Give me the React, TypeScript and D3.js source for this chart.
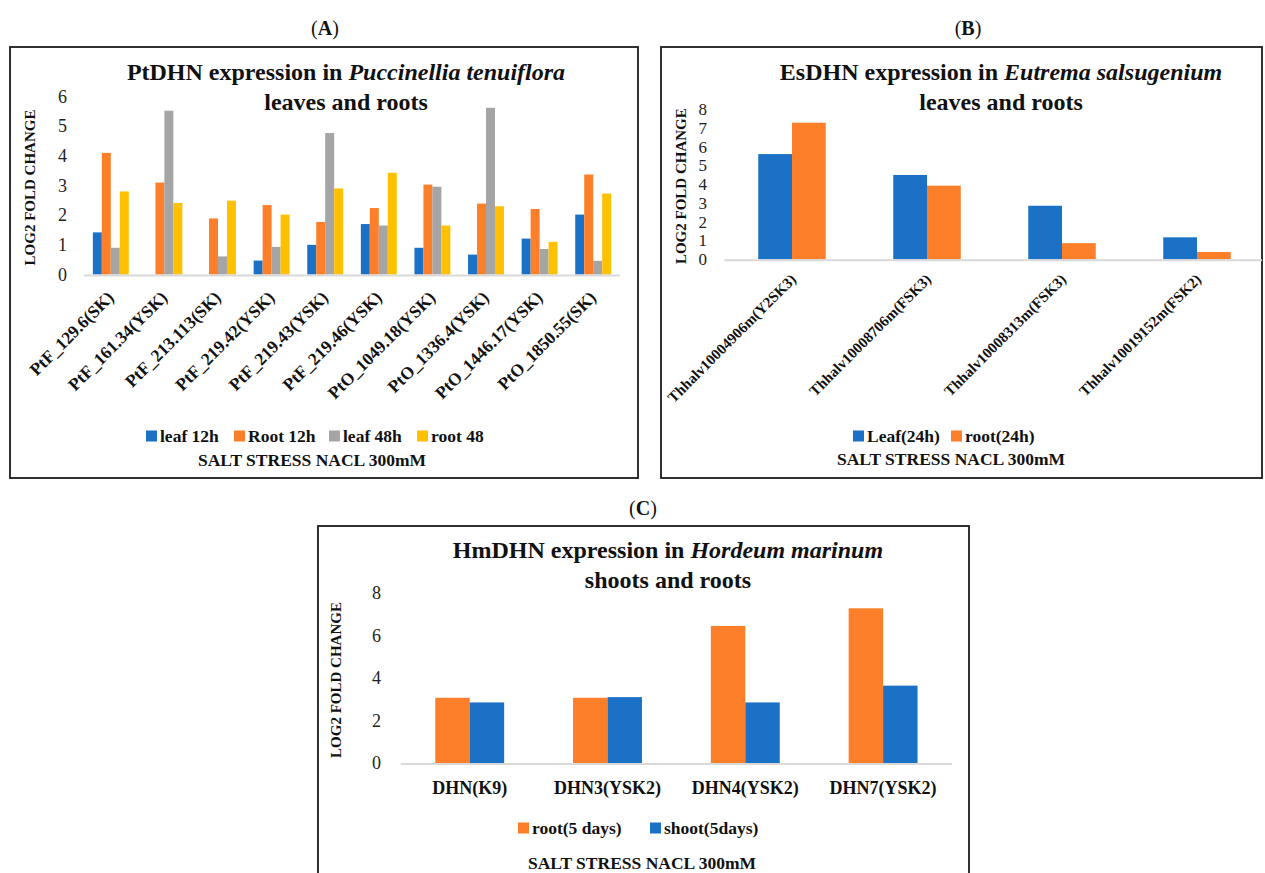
import React, { useRef, useEffect } from "react";
import * as d3 from "d3";

// (A) Puccinellia tenuiflora
const ptCategories = [
  "PtF_129.6(SK)",
  "PtF_161.34(YSK)",
  "PtF_213.113(SK)",
  "PtF_219.42(YSK)",
  "PtF_219.43(YSK)",
  "PtF_219.46(YSK)",
  "PtO_1049.18(YSK)",
  "PtO_1336.4(YSK)",
  "PtO_1446.17(YSK)",
  "PtO_1850.55(SK)",
];
const ptLeaf12h = [1.42, 0, 0, 0.47, 1.0, 1.7, 0.9, 0.67, 1.21, 2.02];
const ptRoot12h = [4.1, 3.1, 1.89, 2.34, 1.77, 2.24, 3.03, 2.39, 2.21, 3.37];
const ptLeaf48h = [0.9, 5.52, 0.61, 0.93, 4.77, 1.65, 2.96, 5.62, 0.86, 0.46];
const ptRoot48 = [2.8, 2.41, 2.49, 2.02, 2.9, 3.43, 1.65, 2.3, 1.1, 2.73];
const ptTicks = [0, 1, 2, 3, 4, 5, 6];

// (B) Eutrema salsugenium
const esCategories = [
  "Thhalv10004906m(Y2SK3)",
  "Thhalv10008706m(FSK3)",
  "Thhalv10008313m(FSK3)",
  "Thhalv10019152m(FSK2)",
];
const esLeaf24h = [5.6, 4.49, 2.85, 1.17];
const esRoot24h = [7.27, 3.92, 0.86, 0.39];
const esTicks = [0, 1, 2, 3, 4, 5, 6, 7, 8];

// (C) Hordeum marinum
const hmCategories = ["DHN(K9)", "DHN3(YSK2)", "DHN4(YSK2)", "DHN7(YSK2)"];
const hmRoot5d = [3.07, 3.07, 6.45, 7.28];
const hmShoot5d = [2.85, 3.1, 2.85, 3.64];
const hmTicks = [0, 2, 4, 6, 8];

const BLUE = "#1a71c6";
const ORANGE = "#fd7f2a";
const GRAY = "#a5a5a5";
const YELLOW = "#ffc000";
const FONT = "Liberation Serif, Times New Roman, serif";

const panels = [
  {
    tag: "A",
    tagX: 325,
    tagY: 28,
    box: [10, 47, 638, 478],
    title: ["PtDHN expression in ", "Puccinellia tenuiflora"],
    subtitle: "leaves and roots",
    titleX: 346,
    titleY: 72,
    categories: ptCategories,
    series: [
      { name: "leaf 12h", values: ptLeaf12h, color: BLUE },
      { name: "Root 12h", values: ptRoot12h, color: ORANGE },
      { name: "leaf 48h", values: ptLeaf48h, color: GRAY },
      { name: "root 48", values: ptRoot48, color: YELLOW },
    ],
    ticks: ptTicks,
    plot: { left: 84, right: 620, bottom: 274.5, top: 96.5 },
    groupFrac: 0.67,
    tickSize: 18,
    tickX: 67,
    yLabelX: 30,
    rotate: true,
    catSize: 17.5,
    catDx: 4,
    catDy: 24,
    legendY: 436,
    legendX: [146, 234, 329, 417],
    saltX: 312,
    saltY: 460,
  },
  {
    tag: "B",
    tagX: 968,
    tagY: 28,
    box: [661, 47, 1262, 478],
    title: ["EsDHN expression in ", "Eutrema salsugenium"],
    subtitle: "leaves and roots",
    titleX: 1001,
    titleY: 72,
    categories: esCategories,
    series: [
      { name: "Leaf(24h)", values: esLeaf24h, color: BLUE },
      { name: "root(24h)", values: esRoot24h, color: ORANGE },
    ],
    ticks: esTicks,
    plot: { left: 724.5, right: 1262, bottom: 259.3, top: 109 },
    bandEnd: 1264.5,
    groupFrac: 0.5,
    tickSize: 17,
    tickX: 707,
    yLabelX: 681,
    rotate: true,
    catSize: 15,
    catDx: 5,
    catDy: 21,
    legendY: 436,
    legendX: [853, 951],
    saltX: 951,
    saltY: 459,
  },
  {
    tag: "C",
    tagX: 643,
    tagY: 508,
    box: [318, 526, 969, 890],
    title: ["HmDHN expression in ", "Hordeum marinum"],
    subtitle: "shoots and roots",
    titleX: 668,
    titleY: 550,
    categories: hmCategories,
    series: [
      { name: "root(5 days)", values: hmRoot5d, color: ORANGE },
      { name: "shoot(5days)", values: hmShoot5d, color: BLUE },
    ],
    ticks: hmTicks,
    plot: { left: 400.8, right: 952, bottom: 763, top: 593 },
    groupFrac: 0.5,
    tickSize: 18,
    tickX: 381,
    yLabelX: 336,
    rotate: false,
    catSize: 18,
    catY: 788,
    legendY: 828,
    legendX: [518, 650],
    saltX: 642,
    saltY: 863,
  },
];

const drawPanel = (svg, p) => {
  const g = svg.append("g");
  const [bx0, by0, bx1, by1] = p.box;

  g.append("rect")
    .attr("x", bx0)
    .attr("y", by0)
    .attr("width", bx1 - bx0)
    .attr("height", by1 - by0)
    .attr("fill", "white")
    .attr("stroke", "#1b1b1b")
    .attr("stroke-width", 1.8);

  // panel tag (A)/(B)/(C)
  const tag = g
    .append("text")
    .attr("x", p.tagX)
    .attr("y", p.tagY)
    .attr("dy", "0.35em")
    .attr("text-anchor", "middle")
    .style("font-size", "20px")
    .style("fill", "#111");
  tag.append("tspan").text("(");
  tag.append("tspan").style("font-weight", "bold").text(p.tag);
  tag.append("tspan").text(")");

  // title
  const t = g
    .append("text")
    .attr("x", p.titleX)
    .attr("y", p.titleY)
    .attr("dy", "0.35em")
    .attr("text-anchor", "middle")
    .style("font-size", "24px")
    .style("font-weight", "bold")
    .style("fill", "#111");
  t.append("tspan").text(p.title[0]);
  t.append("tspan").style("font-style", "italic").text(p.title[1]);
  g.append("text")
    .attr("x", p.titleX)
    .attr("y", p.titleY + 30)
    .attr("dy", "0.35em")
    .attr("text-anchor", "middle")
    .style("font-size", "24px")
    .style("font-weight", "bold")
    .style("fill", "#111")
    .text(p.subtitle);

  const x0 = d3
    .scaleBand()
    .domain(p.categories)
    .range([p.plot.left, p.bandEnd || p.plot.right])
    .padding(0);
  const bw = x0.bandwidth();
  const gw = bw * p.groupFrac;
  const x1 = d3
    .scaleBand()
    .domain(p.series.map((s) => s.name))
    .range([(bw - gw) / 2, (bw + gw) / 2]);
  const y = d3
    .scaleLinear()
    .domain([0, d3.max(p.ticks)])
    .range([p.plot.bottom, p.plot.top]);

  // y tick labels
  g.selectAll(".ytick")
    .data(p.ticks)
    .enter()
    .append("text")
    .attr("x", p.tickX)
    .attr("y", (d) => y(d))
    .attr("dy", "0.35em")
    .attr("text-anchor", "end")
    .style("font-size", p.tickSize + "px")
    .style("fill", "#222")
    .text((d) => d);

  g.append("text")
    .attr(
      "transform",
      `translate(${p.yLabelX},${(p.plot.top + p.plot.bottom) / 2 + 2}) rotate(-90)`
    )
    .attr("dy", "0.35em")
    .attr("text-anchor", "middle")
    .style("font-size", "15px")
    .style("font-weight", "bold")
    .style("fill", "#111")
    .text("LOG2 FOLD CHANGE");

  // bars
  p.series.forEach((s) => {
    g.selectAll(null)
      .data(p.categories)
      .enter()
      .append("rect")
      .attr("x", (d) => x0(d) + x1(s.name))
      .attr("y", (d, i) => y(s.values[i]))
      .attr("width", x1.bandwidth())
      .attr("height", (d, i) => y(0) - y(s.values[i]))
      .attr("fill", s.color);
  });

  // baseline
  g.append("line")
    .attr("x1", p.plot.left)
    .attr("x2", p.plot.right)
    .attr("y1", y(0) + 1)
    .attr("y2", y(0) + 1)
    .attr("stroke", "#d9d9d9")
    .attr("stroke-width", 2);

  // category labels
  const cats = g
    .selectAll(".cat")
    .data(p.categories)
    .enter()
    .append("text")
    .style("font-size", p.catSize + "px")
    .style("font-weight", "bold")
    .style("fill", "#111")
    .text((d) => d);
  if (p.rotate) {
    cats
      .attr("text-anchor", "end")
      .attr(
        "transform",
        (d) =>
          `translate(${x0(d) + bw / 2 + p.catDx},${y(0) + p.catDy}) rotate(-45)`
      );
  } else {
    cats
      .attr("text-anchor", "middle")
      .attr("x", (d) => x0(d) + bw / 2)
      .attr("y", p.catY)
      .attr("dy", "0.35em");
  }

  // legend
  p.series.forEach((s, i) => {
    const lx = p.legendX[i];
    g.append("rect")
      .attr("x", lx)
      .attr("y", p.legendY - 5.5)
      .attr("width", 11)
      .attr("height", 11)
      .attr("fill", s.color);
    g.append("text")
      .attr("x", lx + 14)
      .attr("y", p.legendY)
      .attr("dy", "0.35em")
      .style("font-size", "17.5px")
      .style("font-weight", "bold")
      .style("fill", "#111")
      .text(s.name);
  });

  g.append("text")
    .attr("x", p.saltX)
    .attr("y", p.saltY)
    .attr("dy", "0.35em")
    .attr("text-anchor", "middle")
    .style("font-size", "17.5px")
    .style("font-weight", "bold")
    .style("fill", "#111")
    .text("SALT STRESS NACL 300mM");
};

const App = () => {
  const ref = useRef(null);

  useEffect(() => {
    const svg = d3.select(ref.current);
    svg.selectAll("*").remove();
    svg
      .attr("width", 1265)
      .attr("height", 873)
      .attr("font-family", FONT);
    svg
      .append("rect")
      .attr("width", 1265)
      .attr("height", 873)
      .attr("fill", "white");
    panels.forEach((p) => drawPanel(svg, p));
    svg.selectAll("text").style("font-family", FONT);
    return () => {
      svg.selectAll("*").remove();
    };
  }, []);

  return (
    <svg
      ref={ref}
      style={{ display: "block", position: "absolute", left: 0, top: 0 }}
    />
  );
};

export default App;
